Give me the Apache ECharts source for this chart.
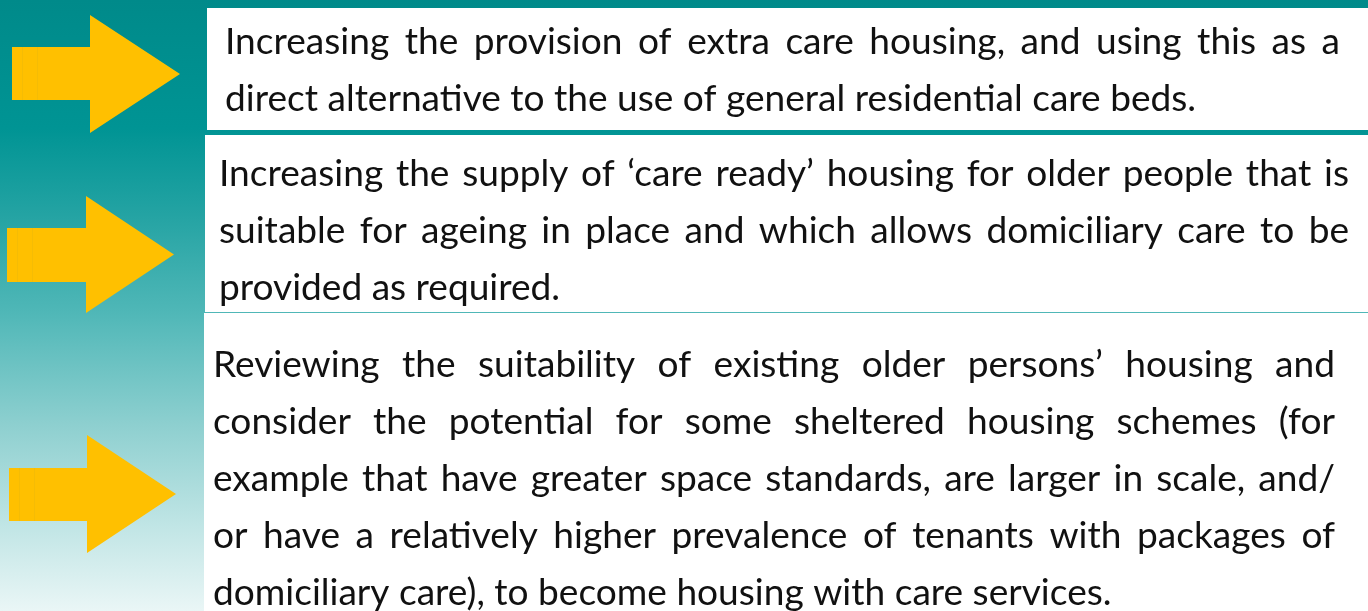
<!DOCTYPE html>
<html>
<head>
<meta charset="utf-8">
<script src="https://cdn.jsdelivr.net/npm/echarts@6/dist/echarts.min.js"></script>
<style>
  html, body { margin: 0; padding: 0; background: #fff; }
  #chart { width: 1368px; height: 611px; }
</style>
</head>
<body>
<div id="chart"></div>
<script>
// text of the three panels, one entry per printed line
const extraCareLines = [
  'Increasing the provision of extra care housing, and using this as a',
  'direct alternative to the use of general residential care beds.'
];
const careReadyLines = [
  'Increasing the supply of \u2018care ready\u2019 housing for older people that is',
  'suitable for ageing in place and which allows domiciliary care to be',
  'provided as required.'
];
const reviewLines = [
  'Reviewing the suitability of existing older persons\u2019 housing and',
  'consider the potential for some sheltered housing schemes (for',
  'example that have greater space standards, are larger in scale, and/',
  'or have a relatively higher prevalence of tenants with packages of',
  'domiciliary care), to become housing with care services.'
];
const panels = [extraCareLines, careReadyLines, reviewLines];

// layout of the panels (pixels)
const boxes = [
  { x: 207, y: 8, h: 122, textX: 225, textR: 1340, base: 53 },
  { x: 205, y: 135, h: 177, textX: 219, textR: 1349, base: 185 },
  { x: 204, y: 313, h: 298, textX: 213, textR: 1335, base: 376 }
];
const lineGap = 57;
const arrows = [
  { x0: 12, x1: 90, tip: 180, sy0: 47, sy1: 100, hy0: 15, hy1: 133 },
  { x0: 7, x1: 86, tip: 174, sy0: 228, sy1: 282, hy0: 196, hy1: 313 },
  { x0: 9, x1: 87, tip: 176, sy0: 468, sy1: 521, hy0: 435, hy1: 553 }
];

const fontFamily = 'Lato, "Liberation Sans", sans-serif';
const ctx = document.createElement('canvas').getContext('2d');
const measure = (s, fs) => {
  ctx.font = fs + 'px ' + fontFamily;
  return ctx.measureText(s).width;
};

// size the font so the unjustified last lines match the original widths
const lastTargets = [972, 334, 904];
let measured = 0;
panels.forEach(p => { measured += measure(p[p.length - 1], 100); });
const fontSize = Math.round(100 * lastTargets.reduce((a, b) => a + b, 0) / measured * 10) / 10;

const graphics = [];

// background gradient
graphics.push({
  type: 'rect',
  shape: { x: 0, y: 0, width: 1368, height: 611 },
  style: {
    fill: new echarts.graphic.LinearGradient(0, 0, 0, 1, [
      { offset: 0, color: '#008A8A' },
      { offset: 0.21, color: '#009494' },
      { offset: 0.36, color: '#26A4A4' },
      { offset: 0.51, color: '#4FB7B7' },
      { offset: 0.7, color: '#8FD0D0' },
      { offset: 0.86, color: '#C0E5E5' },
      { offset: 1, color: '#EAF6F6' }
    ])
  },
  silent: true
});

boxes.forEach(b => {
  graphics.push({
    type: 'rect',
    shape: { x: b.x, y: b.y, width: 1368 - b.x, height: b.h },
    style: { fill: '#FFFFFF' }
  });
});

arrows.forEach(a => {
  const mid = (a.hy0 + a.hy1) / 2;
  graphics.push({
    type: 'polygon',
    shape: {
      points: [
        [a.x0, a.sy0], [a.x1, a.sy0], [a.x1, a.hy0], [a.tip, mid],
        [a.x1, a.hy1], [a.x1, a.sy1], [a.x0, a.sy1]
      ]
    },
    style: { fill: '#FFC000' }
  });
  [10, 25].forEach(dx => {
    graphics.push({
      type: 'line',
      shape: { x1: a.x0 + dx + 0.5, y1: a.sy0, x2: a.x0 + dx + 0.5, y2: a.sy1 },
      style: { stroke: '#F5BC05', lineWidth: 1 }
    });
  });
});

// justified text, word by word
panels.forEach((lines, pi) => {
  const b = boxes[pi];
  const width = b.textR - b.textX;
  lines.forEach((line, li) => {
    const words = line.split(' ');
    const ws = words.map(w => measure(w, fontSize));
    const total = ws.reduce((s, v) => s + v, 0);
    const isLast = li === lines.length - 1;
    const gap = (!isLast && words.length > 1)
      ? (width - total) / (words.length - 1)
      : measure(' ', fontSize);
    const y = b.base + li * lineGap - fontSize * 0.3;
    let x = b.textX;
    words.forEach((w, wi) => {
      graphics.push({
        type: 'text',
        x: x,
        y: y,
        style: {
          text: w,
          font: fontSize + 'px ' + fontFamily,
          fill: '#111111',
          align: 'left',
          verticalAlign: 'middle'
        }
      });
      x += ws[wi] + gap;
    });
  });
});

const myChart = echarts.init(document.getElementById('chart'));
myChart.setOption({
  animation: false,
  graphic: { elements: graphics }
});
</script>
</body>
</html>
